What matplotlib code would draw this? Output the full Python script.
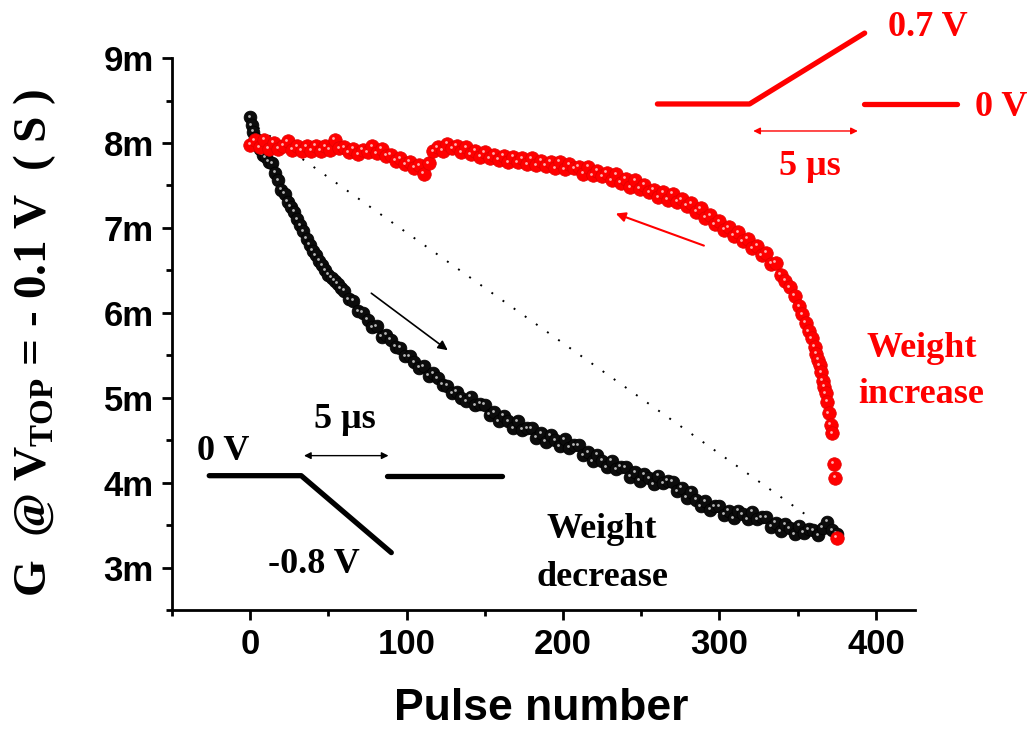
import numpy as np
import matplotlib.pyplot as plt
from matplotlib.ticker import MultipleLocator, FuncFormatter
from matplotlib.transforms import offset_copy

plt.rcParams['font.family'] = 'Liberation Sans'
plt.rcParams['font.weight'] = 'bold'
plt.rcParams['mathtext.fontset'] = 'custom'
plt.rcParams['mathtext.rm'] = 'Liberation Serif:bold'
plt.rcParams['mathtext.bf'] = 'Liberation Serif:bold'

SERIF = 'Liberation Serif'

# weight decrease (black), conductance in mS
dec_x = [0, 1, 2, 3, 4] + list(range(6, 60, 2)) + list(range(60, 376, 3))
dec_y = [8.30, 8.21, 8.13, 8.06, 8.00,
         7.93, 7.86, 7.83, 7.78, 7.76, 7.65, 7.56, 7.45, 7.40, 7.31,
         7.25, 7.19, 7.10, 7.03, 6.96, 6.87, 6.80, 6.73, 6.68, 6.61,
         6.56, 6.50, 6.45, 6.41, 6.38, 6.34, 6.29,
         6.26, 6.16, 6.14, 6.02, 6.00, 5.92, 5.83, 5.84, 5.72, 5.74,
         5.68, 5.60, 5.59, 5.49, 5.49, 5.42, 5.35, 5.37, 5.26, 5.29,
         5.23, 5.15, 5.14, 5.05, 5.07, 5.00, 4.96, 5.01, 4.91, 4.93,
         4.92, 4.80, 4.83, 4.72, 4.79, 4.72, 4.64, 4.72, 4.62, 4.64,
         4.64, 4.53, 4.58, 4.48, 4.56, 4.50, 4.43, 4.51, 4.41, 4.44,
         4.44, 4.32, 4.36, 4.25, 4.33, 4.26, 4.18, 4.26, 4.16, 4.19,
         4.18, 4.07, 4.12, 4.02, 4.10, 4.05, 3.98, 4.08, 3.99, 4.02,
         4.01, 3.90, 3.94, 3.82, 3.89, 3.80, 3.72, 3.78, 3.68, 3.72,
         3.72, 3.62, 3.67, 3.58, 3.67, 3.63, 3.57, 3.66, 3.57, 3.59,
         3.59, 3.48, 3.53, 3.43, 3.51, 3.46, 3.39, 3.49, 3.41, 3.45,
         3.44, 3.38, 3.47, 3.54, 3.44, 3.40]

# weight increase (red)
inc_x = list(range(0, 352, 3)) + [353, 355, 357, 359, 361, 362, 363, 364, 365, 366,
                                  367, 368, 369, 370, 371, 372, 373, 374, 375]
inc_y = [7.98, 8.03, 7.95, 8.04, 7.93, 8.00, 7.93, 7.97, 8.02, 7.92,
         7.96, 7.91, 7.96, 7.91, 7.97, 7.91, 7.96, 7.92, 8.04, 7.94,
         7.95, 7.89, 7.93, 7.87, 7.92, 7.89, 7.96, 7.88, 7.93, 7.85,
         7.86, 7.79, 7.82, 7.75, 7.78, 7.71, 7.74, 7.64, 7.76, 7.90,
         7.95, 7.91, 7.99, 7.94, 7.97, 7.89, 7.95, 7.87, 7.91, 7.84,
         7.89, 7.82, 7.86, 7.80, 7.85, 7.77, 7.84, 7.77, 7.82, 7.75,
         7.82, 7.74, 7.79, 7.73, 7.78, 7.70, 7.78, 7.69, 7.75, 7.70,
         7.72, 7.64, 7.72, 7.62, 7.67, 7.61, 7.65, 7.56, 7.63, 7.53,
         7.58, 7.48, 7.56, 7.46, 7.51, 7.42, 7.45, 7.36, 7.42, 7.33,
         7.40, 7.31, 7.34, 7.26, 7.29, 7.19, 7.23, 7.12, 7.15, 7.04,
         7.08, 6.98, 7.01, 6.91, 6.95, 6.84, 6.87, 6.76, 6.79, 6.68,
         6.71, 6.58, 6.59, 6.45, 6.38, 6.30, 6.20, 6.08,
         5.98, 5.88, 5.78, 5.70, 5.60, 5.52, 5.45, 5.38, 5.30, 5.20,
         5.13, 5.05, 4.95, 4.82, 4.68, 4.58, 4.22, 4.06, 3.35]

# straight reference line between the two ends
guide_x = [5, 360]
guide_y = [8.18, 3.56]

fig = plt.figure(figsize=(10.33, 7.31), dpi=100)
ax = fig.add_axes([0.1665, 0.1655, 0.7193, 0.7551])

hl = offset_copy(ax.transData, fig=fig, x=-1.5, y=1.5, units='dots')

ax.plot(guide_x, guide_y, color='k', lw=1.4, linestyle=(0, (1, 6)), zorder=1)

ax.scatter(dec_x, dec_y, s=85, color='#0c0c0c', edgecolor='#000000', lw=0.5, zorder=2)
ax.scatter(dec_x, dec_y, s=4, color='#b8b8b8', lw=0, transform=hl, zorder=3)
ax.scatter(inc_x, inc_y, s=95, color='#ff0000', edgecolor='#e00000', lw=0.5, zorder=4)
ax.scatter(inc_x, inc_y, s=4, color='#ffb0b0', lw=0, transform=hl, zorder=5)

ax.set_xlim(-50, 425)
ax.set_ylim(2.5, 9)
for s in ['top', 'right']:
    ax.spines[s].set_visible(False)
for s in ['left', 'bottom']:
    ax.spines[s].set_linewidth(2)

ax.xaxis.set_major_locator(MultipleLocator(100))
ax.xaxis.set_minor_locator(MultipleLocator(50))
ax.yaxis.set_major_locator(MultipleLocator(1))
ax.yaxis.set_minor_locator(MultipleLocator(0.5))
ax.yaxis.set_major_formatter(FuncFormatter(lambda v, p: f'{v:.0f}m'))
ax.tick_params(which='major', direction='out', length=7, width=2, labelsize=25, pad=6)
ax.tick_params(which='minor', direction='out', length=4, width=2)

fig.text(0.033, 0.531, r'G  @ V$_{\mathrm{TOP}}$ = - 0.1 V  ( S )', rotation=90,
         family=SERIF, weight='bold', size=34, ha='center', va='center')
fig.text(0.5237, 0.031, 'Pulse number', size=32, ha='center', va='center')

# arrows showing direction of the sweeps
ax.annotate('', xy=(127.7, 5.54), xytext=(76, 6.25),
            arrowprops=dict(arrowstyle='-|>', color='k', lw=1.2, mutation_scale=14))
ax.annotate('', xy=(232, 7.18), xytext=(291.7, 6.78),
            arrowprops=dict(arrowstyle='-|>', color='red', lw=1.5, mutation_scale=14))

txt = dict(family=SERIF, weight='bold', size=26, ha='center', va='center')
ax.text(225, 3.45, 'Weight', color='k', **txt)
ax.text(225, 2.88, 'decrease', color='k', **txt)
ax.text(429, 5.58, 'Weight', color='red', clip_on=False, **txt)
ax.text(429, 5.04, 'increase', color='red', clip_on=False, **txt)

# depression pulse sketch
ax.plot([-26.2, 32.6, 90.2], [4.082, 4.082, 3.176], color='k', lw=3.8,
        solid_capstyle='round', solid_joinstyle='round')
ax.plot([87.6, 161.2], [4.082, 4.082], color='k', lw=3.8, solid_capstyle='round')
ax.annotate('', xy=(90.2, 4.318), xytext=(32.6, 4.318),
            arrowprops=dict(arrowstyle='<|-|>', color='k', lw=1.0, mutation_scale=10))
ax.text(60.8, 4.74, '5 \u03bcs', color='k', **txt)
ax.text(-17.3, 4.365, '0 V', color='k', **txt)
ax.text(40.9, 3.035, '-0.8 V', color='k', **txt)

# potentiation pulse sketch
ax.plot([260.3, 319.2, 392.8], [8.459, 8.459, 9.294], color='red', lw=3.8,
        solid_capstyle='round', solid_joinstyle='round', clip_on=False)
ax.plot([392.1, 451.6], [8.459, 8.459], color='red', lw=3.8,
        solid_capstyle='round', clip_on=False)
ax.annotate('', xy=(390.2, 8.141), xytext=(319.8, 8.141),
            arrowprops=dict(arrowstyle='<|-|>', color='red', lw=1.0, mutation_scale=10))
ax.text(357.6, 7.72, '5 \u03bcs', color='red', **txt)
ax.text(433.1, 9.365, '0.7 V', color='red', clip_on=False, **txt)
ax.text(479.8, 8.412, '0 V', color='red', clip_on=False, **txt)

fig.savefig('out.png', dpi=100)
